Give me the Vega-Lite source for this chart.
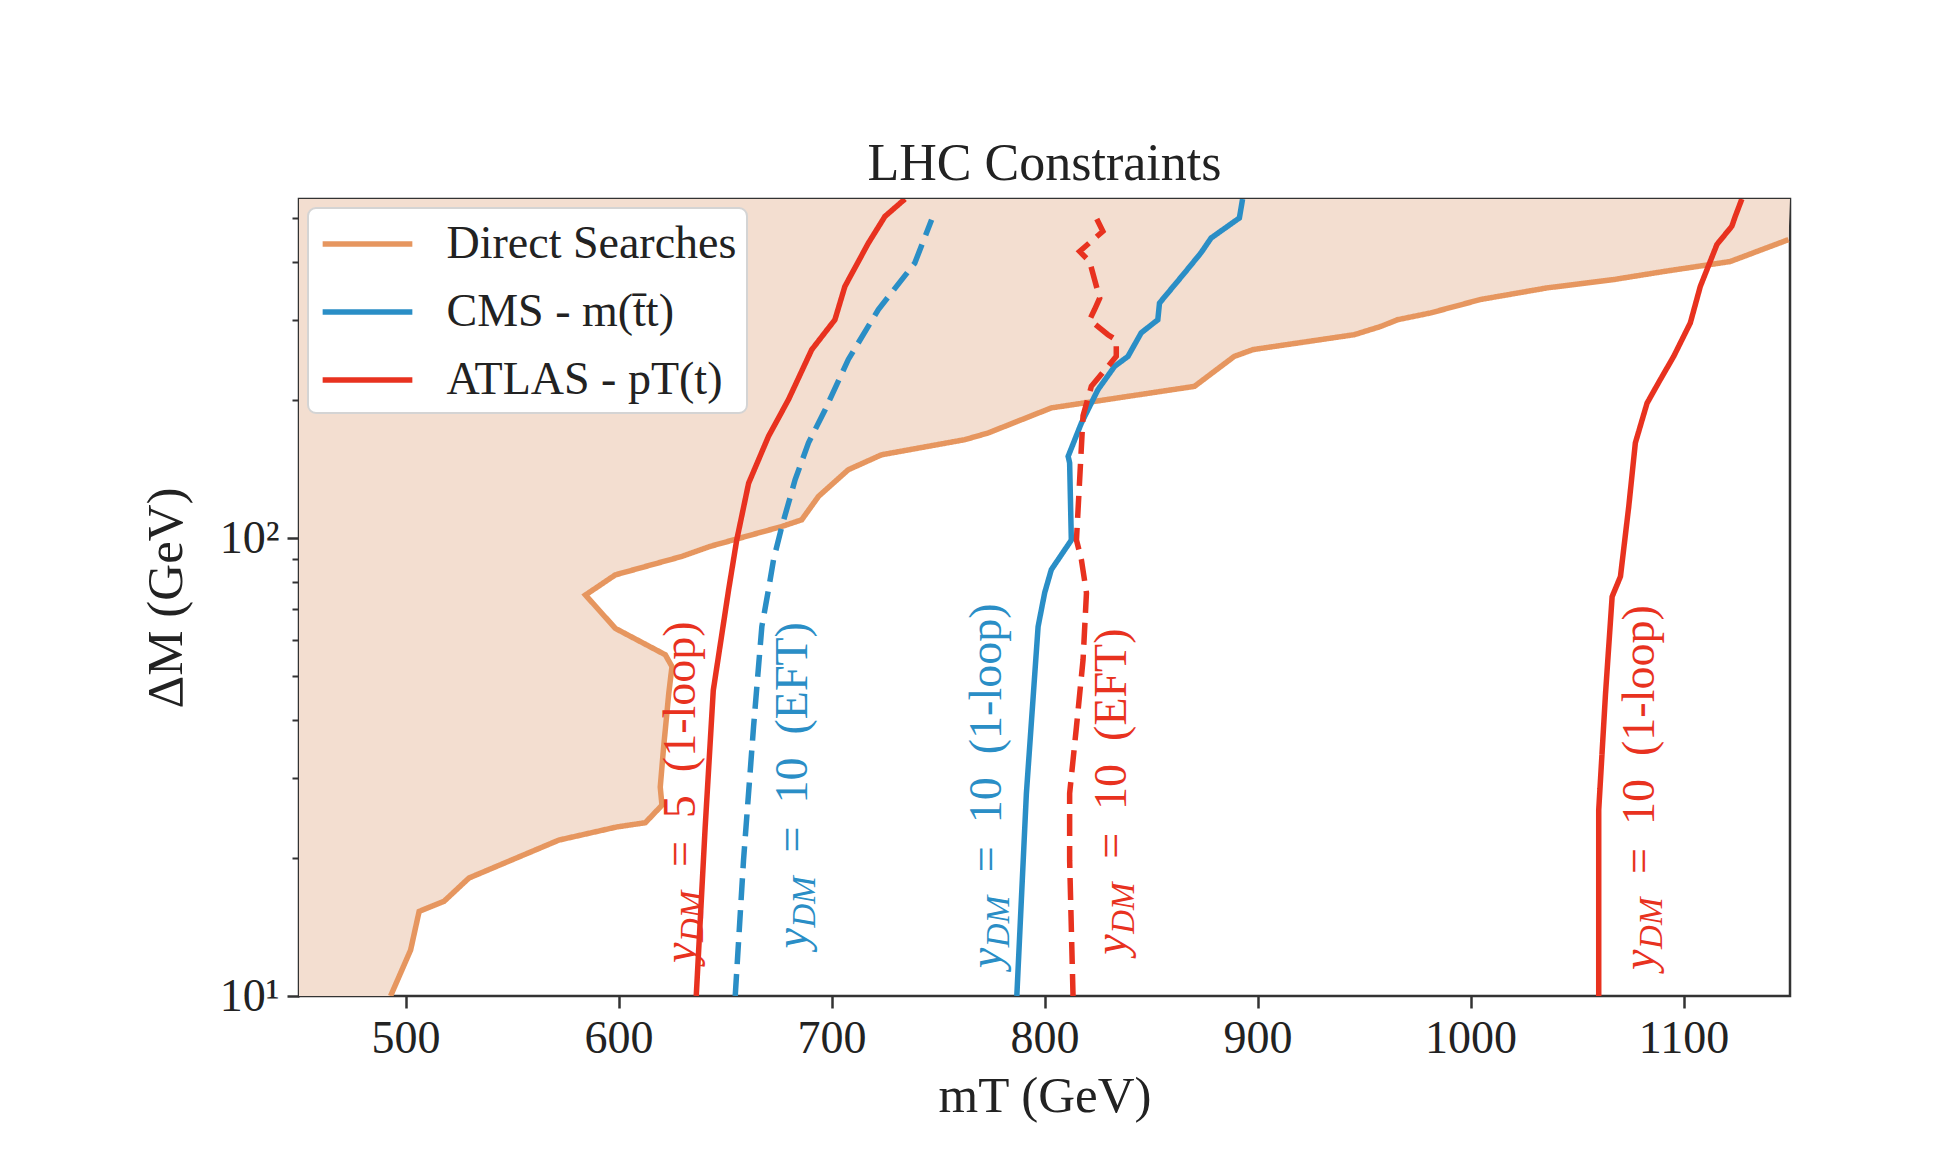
{
  "$schema": "https://vega.github.io/schema/vega-lite/v6.json",
  "width": 1491,
  "height": 797,
  "autosize": {"type": "none"},
  "padding": {"left": 299, "top": 199, "right": 155, "bottom": 164},
  "background": "white",
  "title": {"text": "LHC Constraints", "font": "Liberation Serif", "fontSize": 52, "fontWeight": "normal", "color": "#222", "offset": 17, "dy": 50, "baseline": "alphabetic"},
  "config": {
    "font": "Liberation Serif",
    "view": {"stroke": "#333", "strokeWidth": 2.5},
    "axis": {"domain": false, "grid": false, "tickColor": "#333", "tickWidth": 2.5, "labelFont": "Liberation Serif", "labelFontSize": 46, "labelColor": "#222", "titleFont": "Liberation Serif", "titleFontSize": 51, "titleFontWeight": "normal", "titleColor": "#222"},
    "legend": {"orient": "top-left", "offset": 9, "padding": 10, "fillColor": "white", "strokeColor": "#d4d4d4", "strokeWidth": 2, "cornerRadius": 8, "labelFont": "Liberation Serif", "labelFontSize": 46, "labelColor": "#222", "symbolType": "M-1.95,0H1.95", "symbolSize": 2116, "symbolStrokeWidth": 5.5, "symbolOffset": 23.5, "labelOffset": 53, "rowPadding": 19, "labelLimit": 600}
  },
  "datasets": {
    "curves": [
      {"curve": "direct", "exp": "Direct Searches", "style": "solid", "mT": 493, "dM": 10},
      {"curve": "direct", "exp": "Direct Searches", "style": "solid", "mT": 502.4, "dM": 12.6},
      {"curve": "direct", "exp": "Direct Searches", "style": "solid", "mT": 506.4, "dM": 15.3},
      {"curve": "direct", "exp": "Direct Searches", "style": "solid", "mT": 518.1, "dM": 16.1},
      {"curve": "direct", "exp": "Direct Searches", "style": "solid", "mT": 529.8, "dM": 18.1},
      {"curve": "direct", "exp": "Direct Searches", "style": "solid", "mT": 572, "dM": 21.9},
      {"curve": "direct", "exp": "Direct Searches", "style": "solid", "mT": 599.3, "dM": 23.4},
      {"curve": "direct", "exp": "Direct Searches", "style": "solid", "mT": 612.6, "dM": 23.9},
      {"curve": "direct", "exp": "Direct Searches", "style": "solid", "mT": 620.4, "dM": 26.1},
      {"curve": "direct", "exp": "Direct Searches", "style": "solid", "mT": 619.6, "dM": 28.6},
      {"curve": "direct", "exp": "Direct Searches", "style": "solid", "mT": 621.2, "dM": 35.0},
      {"curve": "direct", "exp": "Direct Searches", "style": "solid", "mT": 623.6, "dM": 45.8},
      {"curve": "direct", "exp": "Direct Searches", "style": "solid", "mT": 625.1, "dM": 52.4},
      {"curve": "direct", "exp": "Direct Searches", "style": "solid", "mT": 622, "dM": 55.6},
      {"curve": "direct", "exp": "Direct Searches", "style": "solid", "mT": 598.5, "dM": 63.5},
      {"curve": "direct", "exp": "Direct Searches", "style": "solid", "mT": 584.5, "dM": 75.1},
      {"curve": "direct", "exp": "Direct Searches", "style": "solid", "mT": 598.5, "dM": 83.1},
      {"curve": "direct", "exp": "Direct Searches", "style": "solid", "mT": 629.8, "dM": 91.2},
      {"curve": "direct", "exp": "Direct Searches", "style": "solid", "mT": 643, "dM": 95.9},
      {"curve": "direct", "exp": "Direct Searches", "style": "solid", "mT": 676.7, "dM": 106},
      {"curve": "direct", "exp": "Direct Searches", "style": "solid", "mT": 686, "dM": 109.6},
      {"curve": "direct", "exp": "Direct Searches", "style": "solid", "mT": 693.9, "dM": 123.3},
      {"curve": "direct", "exp": "Direct Searches", "style": "solid", "mT": 707.9, "dM": 141},
      {"curve": "direct", "exp": "Direct Searches", "style": "solid", "mT": 723.5, "dM": 152},
      {"curve": "direct", "exp": "Direct Searches", "style": "solid", "mT": 762.6, "dM": 164},
      {"curve": "direct", "exp": "Direct Searches", "style": "solid", "mT": 773.5, "dM": 169.6},
      {"curve": "direct", "exp": "Direct Searches", "style": "solid", "mT": 803.2, "dM": 192.4},
      {"curve": "direct", "exp": "Direct Searches", "style": "solid", "mT": 870.4, "dM": 214.4},
      {"curve": "direct", "exp": "Direct Searches", "style": "solid", "mT": 889.1, "dM": 249.3},
      {"curve": "direct", "exp": "Direct Searches", "style": "solid", "mT": 898, "dM": 258},
      {"curve": "direct", "exp": "Direct Searches", "style": "solid", "mT": 945.4, "dM": 278},
      {"curve": "direct", "exp": "Direct Searches", "style": "solid", "mT": 957.9, "dM": 289.8},
      {"curve": "direct", "exp": "Direct Searches", "style": "solid", "mT": 965.7, "dM": 299.7},
      {"curve": "direct", "exp": "Direct Searches", "style": "solid", "mT": 981.3, "dM": 310.2},
      {"curve": "direct", "exp": "Direct Searches", "style": "solid", "mT": 1004.8, "dM": 331.9},
      {"curve": "direct", "exp": "Direct Searches", "style": "solid", "mT": 1036, "dM": 351.8},
      {"curve": "direct", "exp": "Direct Searches", "style": "solid", "mT": 1067.2, "dM": 366.8},
      {"curve": "direct", "exp": "Direct Searches", "style": "solid", "mT": 1090.7, "dM": 382},
      {"curve": "direct", "exp": "Direct Searches", "style": "solid", "mT": 1121.9, "dM": 401.6},
      {"curve": "direct", "exp": "Direct Searches", "style": "solid", "mT": 1149.3, "dM": 448.4},
      {"curve": "direct", "exp": "Direct Searches", "style": "solid", "mT": 1150, "dM": 550},

      {"curve": "atlas5", "exp": "ATLAS - pT(t)", "style": "solid", "mT": 636.5, "dM": 10},
      {"curve": "atlas5", "exp": "ATLAS - pT(t)", "style": "solid", "mT": 640.7, "dM": 23.4},
      {"curve": "atlas5", "exp": "ATLAS - pT(t)", "style": "solid", "mT": 644.5, "dM": 46.5},
      {"curve": "atlas5", "exp": "ATLAS - pT(t)", "style": "solid", "mT": 651.7, "dM": 77.1},
      {"curve": "atlas5", "exp": "ATLAS - pT(t)", "style": "solid", "mT": 655.5, "dM": 99},
      {"curve": "atlas5", "exp": "ATLAS - pT(t)", "style": "solid", "mT": 661.1, "dM": 131.8},
      {"curve": "atlas5", "exp": "ATLAS - pT(t)", "style": "solid", "mT": 670.4, "dM": 166.7},
      {"curve": "atlas5", "exp": "ATLAS - pT(t)", "style": "solid", "mT": 679.8, "dM": 200.6},
      {"curve": "atlas5", "exp": "ATLAS - pT(t)", "style": "solid", "mT": 690.7, "dM": 257.8},
      {"curve": "atlas5", "exp": "ATLAS - pT(t)", "style": "solid", "mT": 701.6, "dM": 299.7},
      {"curve": "atlas5", "exp": "ATLAS - pT(t)", "style": "solid", "mT": 706.3, "dM": 354.5},
      {"curve": "atlas5", "exp": "ATLAS - pT(t)", "style": "solid", "mT": 717.3, "dM": 440.6},
      {"curve": "atlas5", "exp": "ATLAS - pT(t)", "style": "solid", "mT": 725.1, "dM": 504},
      {"curve": "atlas5", "exp": "ATLAS - pT(t)", "style": "solid", "mT": 734.5, "dM": 550},

      {"curve": "cmsEFT", "exp": "CMS - m(t\u0304t)", "style": "dashed", "mT": 654.8, "dM": 10},
      {"curve": "cmsEFT", "exp": "CMS - m(t\u0304t)", "style": "dashed", "mT": 658.7, "dM": 19.8},
      {"curve": "cmsEFT", "exp": "CMS - m(t\u0304t)", "style": "dashed", "mT": 663.4, "dM": 38.7},
      {"curve": "cmsEFT", "exp": "CMS - m(t\u0304t)", "style": "dashed", "mT": 667.3, "dM": 64.1},
      {"curve": "cmsEFT", "exp": "CMS - m(t\u0304t)", "style": "dashed", "mT": 670.4, "dM": 77.1},
      {"curve": "cmsEFT", "exp": "CMS - m(t\u0304t)", "style": "dashed", "mT": 672.8, "dM": 89.8},
      {"curve": "cmsEFT", "exp": "CMS - m(t\u0304t)", "style": "dashed", "mT": 676.7, "dM": 106},
      {"curve": "cmsEFT", "exp": "CMS - m(t\u0304t)", "style": "dashed", "mT": 682.9, "dM": 134},
      {"curve": "cmsEFT", "exp": "CMS - m(t\u0304t)", "style": "dashed", "mT": 689.2, "dM": 161.4},
      {"curve": "cmsEFT", "exp": "CMS - m(t\u0304t)", "style": "dashed", "mT": 697, "dM": 190.6},
      {"curve": "cmsEFT", "exp": "CMS - m(t\u0304t)", "style": "dashed", "mT": 707.9, "dM": 245.5},
      {"curve": "cmsEFT", "exp": "CMS - m(t\u0304t)", "style": "dashed", "mT": 722, "dM": 315.5},
      {"curve": "cmsEFT", "exp": "CMS - m(t\u0304t)", "style": "dashed", "mT": 739.1, "dM": 398.6},
      {"curve": "cmsEFT", "exp": "CMS - m(t\u0304t)", "style": "dashed", "mT": 747, "dM": 495.6},

      {"curve": "cms1loop", "exp": "CMS - m(t\u0304t)", "style": "solid", "mT": 787, "dM": 10},
      {"curve": "cms1loop", "exp": "CMS - m(t\u0304t)", "style": "solid", "mT": 791.5, "dM": 27.7},
      {"curve": "cms1loop", "exp": "CMS - m(t\u0304t)", "style": "solid", "mT": 797, "dM": 64.1},
      {"curve": "cms1loop", "exp": "CMS - m(t\u0304t)", "style": "solid", "mT": 800.1, "dM": 76},
      {"curve": "cms1loop", "exp": "CMS - m(t\u0304t)", "style": "solid", "mT": 803.2, "dM": 85.3},
      {"curve": "cms1loop", "exp": "CMS - m(t\u0304t)", "style": "solid", "mT": 812.6, "dM": 99},
      {"curve": "cms1loop", "exp": "CMS - m(t\u0304t)", "style": "solid", "mT": 811.8, "dM": 145.9},
      {"curve": "cms1loop", "exp": "CMS - m(t\u0304t)", "style": "solid", "mT": 811.1, "dM": 150.8},
      {"curve": "cms1loop", "exp": "CMS - m(t\u0304t)", "style": "solid", "mT": 817.3, "dM": 178.2},
      {"curve": "cms1loop", "exp": "CMS - m(t\u0304t)", "style": "solid", "mT": 825.1, "dM": 210.9},
      {"curve": "cms1loop", "exp": "CMS - m(t\u0304t)", "style": "solid", "mT": 832.9, "dM": 237.1},
      {"curve": "cms1loop", "exp": "CMS - m(t\u0304t)", "style": "solid", "mT": 839.2, "dM": 249.3},
      {"curve": "cms1loop", "exp": "CMS - m(t\u0304t)", "style": "solid", "mT": 845.4, "dM": 280.6},
      {"curve": "cms1loop", "exp": "CMS - m(t\u0304t)", "style": "solid", "mT": 853.2, "dM": 299.7},
      {"curve": "cms1loop", "exp": "CMS - m(t\u0304t)", "style": "solid", "mT": 854, "dM": 326},
      {"curve": "cms1loop", "exp": "CMS - m(t\u0304t)", "style": "solid", "mT": 865.7, "dM": 379},
      {"curve": "cms1loop", "exp": "CMS - m(t\u0304t)", "style": "solid", "mT": 873.5, "dM": 419.8},
      {"curve": "cms1loop", "exp": "CMS - m(t\u0304t)", "style": "solid", "mT": 878.2, "dM": 452},
      {"curve": "cms1loop", "exp": "CMS - m(t\u0304t)", "style": "solid", "mT": 891.5, "dM": 500},
      {"curve": "cms1loop", "exp": "CMS - m(t\u0304t)", "style": "solid", "mT": 893, "dM": 550},

      {"curve": "atlasEFT", "exp": "ATLAS - pT(t)", "style": "dashed", "mT": 813.4, "dM": 10},
      {"curve": "atlasEFT", "exp": "ATLAS - pT(t)", "style": "dashed", "mT": 811.8, "dM": 19.8},
      {"curve": "atlasEFT", "exp": "ATLAS - pT(t)", "style": "dashed", "mT": 811.8, "dM": 27.7},
      {"curve": "atlasEFT", "exp": "ATLAS - pT(t)", "style": "dashed", "mT": 815, "dM": 38.7},
      {"curve": "atlasEFT", "exp": "ATLAS - pT(t)", "style": "dashed", "mT": 818.1, "dM": 54.2},
      {"curve": "atlasEFT", "exp": "ATLAS - pT(t)", "style": "dashed", "mT": 819.7, "dM": 75.9},
      {"curve": "atlasEFT", "exp": "ATLAS - pT(t)", "style": "dashed", "mT": 817.3, "dM": 89.8},
      {"curve": "atlasEFT", "exp": "ATLAS - pT(t)", "style": "dashed", "mT": 815, "dM": 99},
      {"curve": "atlasEFT", "exp": "ATLAS - pT(t)", "style": "dashed", "mT": 818.1, "dM": 184.9},
      {"curve": "atlasEFT", "exp": "ATLAS - pT(t)", "style": "dashed", "mT": 822, "dM": 214.4},
      {"curve": "atlasEFT", "exp": "ATLAS - pT(t)", "style": "dashed", "mT": 833.7, "dM": 249.3},
      {"curve": "atlasEFT", "exp": "ATLAS - pT(t)", "style": "dashed", "mT": 833.7, "dM": 270.6},
      {"curve": "atlasEFT", "exp": "ATLAS - pT(t)", "style": "dashed", "mT": 829.8, "dM": 278},
      {"curve": "atlasEFT", "exp": "ATLAS - pT(t)", "style": "dashed", "mT": 821.2, "dM": 299.7},
      {"curve": "atlasEFT", "exp": "ATLAS - pT(t)", "style": "dashed", "mT": 823.5, "dM": 315.5},
      {"curve": "atlasEFT", "exp": "ATLAS - pT(t)", "style": "dashed", "mT": 825.9, "dM": 334},
      {"curve": "atlasEFT", "exp": "ATLAS - pT(t)", "style": "dashed", "mT": 821.2, "dM": 401.6},
      {"curve": "atlasEFT", "exp": "ATLAS - pT(t)", "style": "dashed", "mT": 816.5, "dM": 422.5},
      {"curve": "atlasEFT", "exp": "ATLAS - pT(t)", "style": "dashed", "mT": 827.4, "dM": 467.7},
      {"curve": "atlasEFT", "exp": "ATLAS - pT(t)", "style": "dashed", "mT": 824.3, "dM": 500},

      {"curve": "atlas10", "exp": "ATLAS - pT(t)", "style": "solid", "mT": 1060.2, "dM": 10},
      {"curve": "atlas10", "exp": "ATLAS - pT(t)", "style": "solid", "mT": 1060.2, "dM": 25.5},
      {"curve": "atlas10", "exp": "ATLAS - pT(t)", "style": "solid", "mT": 1063.4, "dM": 45.8},
      {"curve": "atlas10", "exp": "ATLAS - pT(t)", "style": "solid", "mT": 1066.5, "dM": 74.5},
      {"curve": "atlas10", "exp": "ATLAS - pT(t)", "style": "solid", "mT": 1070.4, "dM": 82.4},
      {"curve": "atlas10", "exp": "ATLAS - pT(t)", "style": "solid", "mT": 1074.3, "dM": 117.2},
      {"curve": "atlas10", "exp": "ATLAS - pT(t)", "style": "solid", "mT": 1077.4, "dM": 161.4},
      {"curve": "atlas10", "exp": "ATLAS - pT(t)", "style": "solid", "mT": 1082.9, "dM": 197.1},
      {"curve": "atlas10", "exp": "ATLAS - pT(t)", "style": "solid", "mT": 1089.1, "dM": 221.8},
      {"curve": "atlas10", "exp": "ATLAS - pT(t)", "style": "solid", "mT": 1095.4, "dM": 249.3},
      {"curve": "atlas10", "exp": "ATLAS - pT(t)", "style": "solid", "mT": 1103.2, "dM": 295},
      {"curve": "atlas10", "exp": "ATLAS - pT(t)", "style": "solid", "mT": 1107.9, "dM": 354.5},
      {"curve": "atlas10", "exp": "ATLAS - pT(t)", "style": "solid", "mT": 1115.7, "dM": 437.6},
      {"curve": "atlas10", "exp": "ATLAS - pT(t)", "style": "solid", "mT": 1122.7, "dM": 479.7},
      {"curve": "atlas10", "exp": "ATLAS - pT(t)", "style": "solid", "mT": 1124.3, "dM": 504},
      {"curve": "atlas10", "exp": "ATLAS - pT(t)", "style": "solid", "mT": 1127.4, "dM": 550}
    ],
    "labels": [
      {"exp": "ATLAS - pT(t)", "mT": 635.9, "dM": 11.8, "rest": "=\u00a0\u00a05\u00a0\u00a0(1-loop)"},
      {"exp": "CMS - m(t\u0304t)", "mT": 688.4, "dM": 12.7, "rest": "=\u00a0\u00a010\u00a0\u00a0(EFT)"},
      {"exp": "CMS - m(t\u0304t)", "mT": 779.8, "dM": 11.5, "rest": "=\u00a0\u00a010\u00a0\u00a0(1-loop)"},
      {"exp": "ATLAS - pT(t)", "mT": 838.4, "dM": 12.3, "rest": "=\u00a0\u00a010\u00a0\u00a0(EFT)"},
      {"exp": "ATLAS - pT(t)", "mT": 1086, "dM": 11.4, "rest": "=\u00a0\u00a010\u00a0\u00a0(1-loop)"}
    ]
  },
  "resolve": {"axis": {"y": "independent"}},
  "layer": [
    {
      "data": {"name": "curves"},
      "transform": [{"filter": "datum.curve == 'direct'"}],
      "mark": {"type": "area", "orient": "horizontal", "color": "#f3ded0", "clip": true},
      "encoding": {
        "x": {"field": "mT", "type": "quantitative", "scale": {"domain": [450, 1150], "nice": false, "zero": false},
              "axis": {"values": [500, 600, 700, 800, 900, 1000, 1100], "format": "d", "title": "mT (GeV)", "tickSize": 12, "labelPadding": 8, "titlePadding": 10, "labelFlush": false}},
        "x2": {"datum": 450},
        "y": {"field": "dM", "type": "quantitative", "scale": {"type": "log", "domain": [10, 550], "nice": false},
              "axis": {"orient": "left", "values": [10, 100], "labelExpr": "datum.value == 10 ? '10¹' : '10²'", "title": "ΔM (GeV)", "tickSize": 12, "labelPadding": 8, "titlePadding": 27, "labelFlush": false}}
      }
    },
    {
      "data": {"name": "curves"},
      "transform": [{"filter": "datum.curve != 'direct' || datum.dM < 549"}],
      "mark": {"type": "line", "strokeWidth": 5.5, "clip": true, "strokeCap": "butt"},
      "encoding": {
        "x": {"field": "mT", "type": "quantitative"},
        "y": {"field": "dM", "type": "quantitative",
              "axis": {"orient": "left", "values": [20, 30, 40, 50, 60, 70, 80, 90, 200, 300, 400, 500], "labels": false, "title": null, "tickSize": 7, "tickWidth": 2}},
        "color": {"field": "exp", "type": "nominal",
                  "scale": {"domain": ["Direct Searches", "CMS - m(t\u0304t)", "ATLAS - pT(t)"], "range": ["#e6965f", "#2a8ec6", "#e8321f"]},
                  "legend": {"title": null}},
        "strokeDash": {"field": "style", "type": "nominal", "scale": {"domain": ["solid", "dashed"], "range": [[1, 0], [22, 10]]}, "legend": null},
        "detail": {"field": "curve"},
        "order": {"field": "dM", "type": "quantitative"}
      }
    },
    {
      "data": {"name": "labels"},
      "mark": {"type": "text", "angle": 270, "align": "left", "baseline": "alphabetic", "font": "Liberation Serif", "fontSize": 46, "fontStyle": "italic", "text": "y"},
      "encoding": {
        "x": {"field": "mT", "type": "quantitative"},
        "y": {"field": "dM", "type": "quantitative", "axis": null},
        "color": {"field": "exp", "type": "nominal", "legend": null}
      }
    },
    {
      "data": {"name": "labels"},
      "mark": {"type": "text", "angle": 270, "align": "left", "baseline": "alphabetic", "font": "Liberation Serif", "fontSize": 33, "fontStyle": "italic", "text": "DM", "dx": 21, "dy": 8},
      "encoding": {
        "x": {"field": "mT", "type": "quantitative"},
        "y": {"field": "dM", "type": "quantitative", "axis": null},
        "color": {"field": "exp", "type": "nominal", "legend": null}
      }
    },
    {
      "data": {"name": "labels"},
      "mark": {"type": "text", "angle": 270, "align": "left", "baseline": "alphabetic", "font": "Liberation Serif", "fontSize": 46, "dx": 96},
      "encoding": {
        "x": {"field": "mT", "type": "quantitative"},
        "y": {"field": "dM", "type": "quantitative", "axis": null},
        "text": {"field": "rest"},
        "color": {"field": "exp", "type": "nominal", "legend": null}
      }
    }
  ]
}
